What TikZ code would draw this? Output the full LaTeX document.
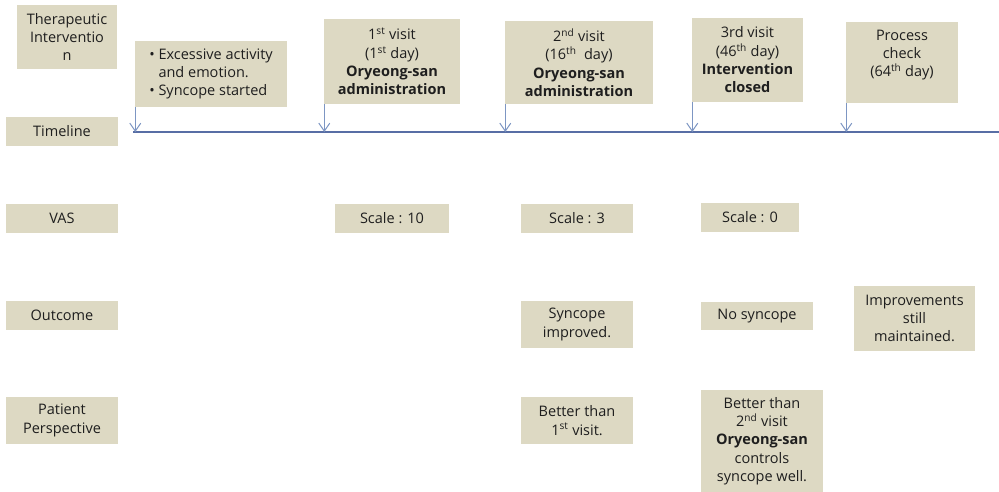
\documentclass[tikz,border=0pt]{standalone}
\usepackage{fontspec}
\setmainfont{Open Sans}
\usetikzlibrary{arrows.meta}
\definecolor{boxfill}{RGB}{221,217,195}
\definecolor{tline}{RGB}{88,110,165}
\definecolor{aline}{RGB}{125,150,195}
\definecolor{txt}{RGB}{30,30,30}
\begin{document}
\begin{tikzpicture}[x=1pt,y=-1pt,
  box/.style={fill=boxfill, inner sep=0pt, align=center, text=txt,
    font=\fontsize{14.5}{18.3}\selectfont},
  arr/.style={draw=aline, line width=1pt, -{Straight Barb[length=8pt,width=11pt]}},
  tl/.style={draw=tline, line width=1.8pt}]
\useasboundingbox[fill=white] (0,0) rectangle (999,492);
% row labels
\node[box, minimum width=100, minimum height=64] (ther) at (67,37) {Therapeutic\\Interventio\\n};
\node[box, minimum width=112, minimum height=29] (time) at (62,131.5) {Timeline};
\node[box, minimum width=112, minimum height=29] (vas) at (62,218.5) {VAS};
\node[box, minimum width=112, minimum height=29] (outc) at (62,315.5) {Outcome};
\node[box, minimum width=112, minimum height=47] (pat) at (62,420.5) {Patient\\Perspective};
% events
\node[box, minimum width=152, minimum height=66, align=left] (ev0) at (211,74)
  {\textbullet\ Excessive activity\\\phantom{\textbullet\ }and emotion.\\\textbullet\ Syncope started};
\node[box, minimum width=136, minimum height=85] (ev1) at (392,61.5)
  {1\textsuperscript{st} visit\\(1\textsuperscript{st} day)\\\textbf{Oryeong-san}\\\textbf{administration}};
\node[box, minimum width=148, minimum height=83] (ev2) at (579,62.5)
  {2\textsuperscript{nd} visit\\(16\textsuperscript{th}\ \ day)\\\textbf{Oryeong-san}\\\textbf{administration}};
\node[box, minimum width=111, minimum height=84] (ev3) at (747.5,60)
  {3rd visit\\(46\textsuperscript{th} day)\\\textbf{Intervention}\\\textbf{closed}};
\node[box, minimum width=112, minimum height=81] (ev4) at (902,62.5)
  {Process\\check\\(64\textsuperscript{th} day)\\\mbox{}};
% timeline
\coordinate (tls) at (133,132);
\coordinate (tle) at (999,132);
\draw[tl] (tls) -- (tle);
\foreach \e in {ev0,ev1,ev2,ev3,ev4}
  \draw[arr] ([xshift=0.5pt]\e.south west) -- ([xshift=0.5pt]\e.south west |- tls);
% VAS
\node[box, minimum width=114, minimum height=29] (s10) at (392,218.5) {Scale : 10};
\node[box, minimum width=112, minimum height=29] (s3) at (577,218.5) {Scale : 3};
\node[box, minimum width=98, minimum height=29] (s0) at (750,217.5) {Scale : 0};
% Outcome
\node[box, minimum width=112, minimum height=47] (o2) at (577,324.5) {Syncope\\improved.};
\node[box, minimum width=112, minimum height=28] (o3) at (757,316) {No syncope};
\node[box, minimum width=121, minimum height=65] (o4) at (914.5,318.5) {Improvements\\still\\maintained.};
% Patient perspective
\node[box, minimum width=112, minimum height=47] (p2) at (577,420.5) {Better than\\1\textsuperscript{st} visit.};
\node[box, minimum width=122, minimum height=102] (p3) at (762,441)
  {Better than\\2\textsuperscript{nd} visit\\\textbf{Oryeong-san}\\controls\\syncope well.};
\end{tikzpicture}
\end{document}
